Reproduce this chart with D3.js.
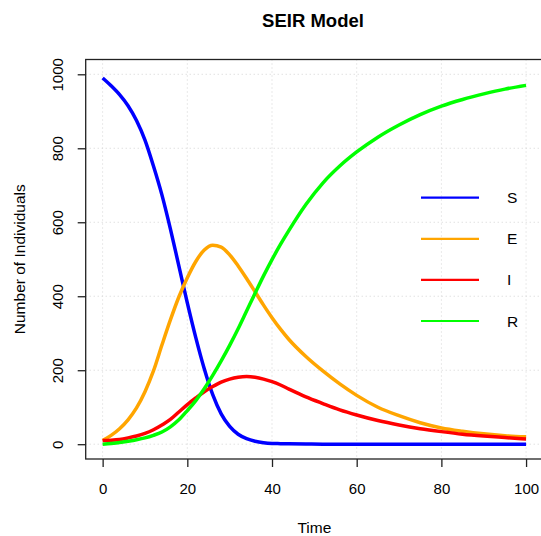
<!DOCTYPE html>
<html>
<head>
<meta charset="utf-8">
<script src="https://cdn.jsdelivr.net/npm/d3@7"></script>
<style>
  html, body { margin: 0; padding: 0; background: #fff; }
  svg { display: block; font-family: "Liberation Sans", Arial, sans-serif; }
</style>
</head>
<body>
<svg id="chart" width="541" height="536"></svg>
<script>
// SEIR compartments over time
const time = [0, 2, 4, 6, 8, 10, 12, 14, 16, 18, 20, 22, 24, 26, 28, 30, 32, 34, 36, 38, 40, 42, 44, 48, 52, 56, 60, 65, 70, 75, 80, 85, 90, 95, 100];
const susceptible = [990, 969, 945, 915, 875, 822, 752, 674, 582, 482, 382, 288, 204, 134, 82, 48, 27, 15, 8, 4, 2, 1.5, 1, 0.5, 0, 0, 0, 0, 0, 0, 0, 0, 0, 0, 0];
const exposed = [10, 24, 42, 66, 98, 142, 198, 268, 336, 398, 450, 494, 525, 538, 533, 512, 482, 448, 412, 376, 342, 311, 283, 237, 198, 163, 132, 100, 77, 58, 44, 35, 28, 23, 20];
const infectious = [10, 11, 13, 17, 22, 29, 39, 52, 67, 87, 107, 125, 142, 156, 168, 176, 181, 183, 181, 176, 169, 160, 149, 128, 110, 93, 79, 64, 52, 42, 34, 27, 22, 18, 14];
const recovered = [0, 2, 4.5, 8, 12, 17, 24, 33, 47, 66, 91, 118, 150, 186, 225, 267, 312, 360, 408, 455, 499, 540, 578, 648, 706, 752, 790, 830, 863, 891, 914, 932, 947, 960, 970];

const seriesNames = ["S", "E", "I", "R"];
const seriesColors = ["#0000ff", "#ffa500", "#ff0000", "#00ff00"];
const seriesValues = [susceptible, exposed, infectious, recovered];

const xTicks = [0, 20, 40, 60, 80, 100];
const yTicks = [0, 200, 400, 600, 800, 1000];

const svg = d3.select("#chart");
const plotLeft = 85.7, plotRight = 543, plotTop = 59.5, plotBottom = 459;

const x = d3.scaleLinear().domain([-4, 104]).range([plotLeft, plotRight]);
const y = d3.scaleLinear().domain([-40, 1040]).range([plotBottom, plotTop]);

// dotted background grid
const grid = svg.append("g").attr("stroke", "#d3d3d3").attr("stroke-width", 1)
  .attr("stroke-dasharray", "1,3");
grid.selectAll("line.v").data(xTicks).join("line")
  .attr("class", "v")
  .attr("x1", d => x(d)).attr("x2", d => x(d))
  .attr("y1", plotTop).attr("y2", plotBottom);
grid.selectAll("line.h").data(yTicks).join("line")
  .attr("class", "h")
  .attr("x1", plotLeft).attr("x2", plotRight)
  .attr("y1", d => y(d)).attr("y2", d => y(d));

// series lines
const line = d3.line()
  .x((d, i) => x(time[i]))
  .y(d => y(d))
  .curve(d3.curveMonotoneX);

svg.append("g").selectAll("path").data(seriesValues).join("path")
  .attr("d", d => line(d))
  .attr("fill", "none")
  .attr("stroke", (d, i) => seriesColors[i])
  .attr("stroke-width", 3.5)
  .attr("stroke-linejoin", "round");

// plot frame
svg.append("rect")
  .attr("x", plotLeft).attr("y", plotTop)
  .attr("width", plotRight - plotLeft).attr("height", plotBottom - plotTop)
  .attr("fill", "none").attr("stroke", "#222").attr("stroke-width", 1.3);

// x axis
const xAxis = svg.append("g")
  .attr("transform", `translate(0,${plotBottom})`)
  .call(d3.axisBottom(x).tickValues(xTicks).tickSize(8).tickFormat(d3.format("d")));
xAxis.select(".domain").remove();
xAxis.selectAll(".tick line").attr("stroke", "#222").attr("stroke-width", 1.3);
xAxis.selectAll(".tick text")
  .attr("y", 35).attr("dy", null)
  .attr("font-size", 15).attr("fill", "#000")
  .attr("font-family", "Liberation Sans, Arial, sans-serif");

// y axis, labels parallel to the axis
const yAxis = svg.append("g")
  .attr("transform", `translate(${plotLeft},0)`)
  .call(d3.axisLeft(y).tickValues(yTicks).tickSize(8).tickFormat(d3.format("d")));
yAxis.select(".domain").remove();
yAxis.selectAll(".tick line").attr("stroke", "#222").attr("stroke-width", 1.3);
yAxis.selectAll(".tick text")
  .attr("x", null).attr("dy", null)
  .attr("text-anchor", "middle")
  .attr("transform", "translate(-22.3,0) rotate(-90)")
  .attr("font-size", 15).attr("fill", "#000")
  .attr("font-family", "Liberation Sans, Arial, sans-serif");

// titles
svg.append("text")
  .attr("x", 313).attr("y", 26.7)
  .attr("text-anchor", "middle")
  .attr("font-size", 18.5).attr("font-weight", "bold")
  .text("SEIR Model");

svg.append("text")
  .attr("x", (plotLeft + plotRight) / 2).attr("y", 532.5)
  .attr("text-anchor", "middle")
  .attr("font-size", 15.5)
  .text("Time");

svg.append("text")
  .attr("transform", `translate(25,${(plotTop + plotBottom) / 2}) rotate(-90)`)
  .attr("text-anchor", "middle")
  .attr("font-size", 15.5)
  .text("Number of Individuals");

// legend
const legend = svg.append("g");
const legendY = d3.scaleLinear().domain([0, 3]).range([197.7, 321]);
seriesNames.forEach((name, i) => {
  legend.append("line")
    .attr("x1", 421).attr("x2", 479)
    .attr("y1", legendY(i)).attr("y2", legendY(i))
    .attr("stroke", seriesColors[i]).attr("stroke-width", 2.2);
  legend.append("text")
    .attr("x", 507).attr("y", legendY(i) + 5.5)
    .attr("font-size", 15.5)
    .text(name);
});
</script>
</body>
</html>
